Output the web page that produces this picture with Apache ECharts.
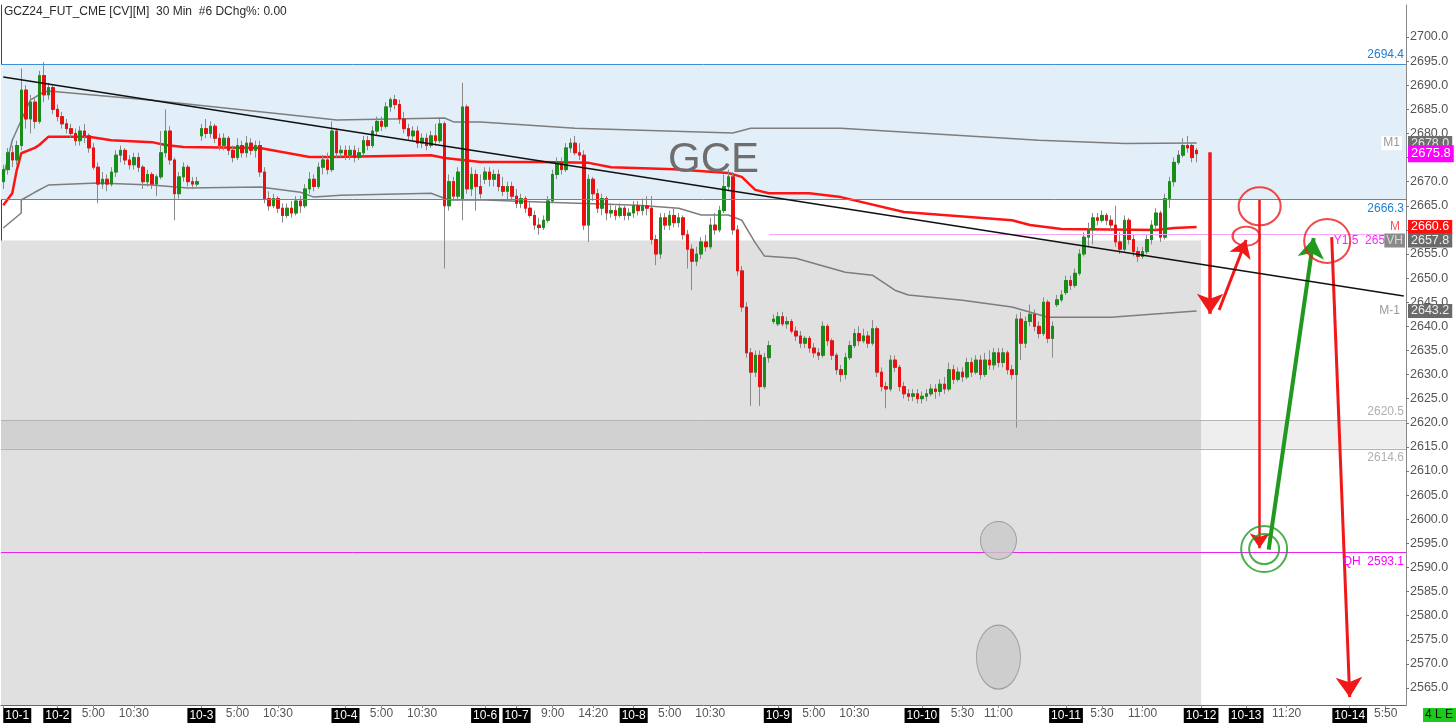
<!DOCTYPE html>
<html><head><meta charset="utf-8">
<script src="https://cdn.jsdelivr.net/npm/echarts@6/dist/echarts.min.js"></script>
<style>html,body{margin:0;padding:0;background:#fff}#c{width:1456px;height:723px}</style>
</head><body><div id="c"></div>
<script>
// ---- candles [open, close, low, high], 30-min bars, grouped by session ----
const d1001 = [
[2670.0,2672.5,2668.5,2673.5],[2672.5,2676.0,2671.5,2677.0],[2676.0,2674.5,2673.0,2677.5],[2674.5,2677.5,2673.5,2678.5],
[2677.5,2689.0,2676.5,2693.5],[2689.0,2683.0,2681.0,2690.0],[2683.0,2686.5,2680.0,2688.0],[2686.5,2682.5,2681.0,2687.5],
[2682.5,2692.0,2682.0,2693.0],[2692.0,2688.0,2686.5,2694.8],[2688.0,2689.5,2687.0,2690.5],[2689.5,2685.0,2684.0,2690.0]];
const d1002 = [
[2685.0,2683.5,2682.5,2686.0],[2683.5,2682.0,2681.0,2684.5],[2682.0,2681.0,2680.0,2683.0],[2681.0,2680.0,2679.0,2682.0],
[2680.0,2678.5,2677.5,2681.0],[2678.5,2680.5,2677.5,2681.5],[2680.5,2679.5,2678.0,2682.0],[2679.5,2677.0,2676.0,2680.0],
[2677.0,2673.0,2672.5,2678.0],[2673.0,2669.5,2665.5,2674.0],[2669.5,2670.5,2668.5,2672.0],[2670.5,2669.5,2668.0,2671.5],
[2669.5,2672.0,2669.0,2673.0],[2672.0,2675.5,2671.0,2676.5],[2675.5,2676.5,2674.0,2677.5],[2676.5,2674.5,2673.5,2677.0],
[2674.5,2673.5,2672.5,2675.5],[2673.5,2675.0,2672.5,2676.0],[2675.0,2673.0,2672.0,2676.0],[2673.0,2670.0,2668.5,2673.5],
[2670.0,2671.5,2669.0,2672.5],[2671.5,2669.5,2668.5,2672.0],[2669.5,2671.0,2667.0,2671.5],[2671.0,2676.0,2670.5,2680.5],
[2676.0,2680.5,2675.0,2685.0],[2680.5,2674.5,2673.5,2681.5],[2674.5,2667.5,2662.0,2675.0],[2667.5,2671.0,2666.5,2672.0],
[2671.0,2673.0,2670.0,2674.0],[2673.0,2670.0,2669.0,2673.5],[2670.0,2669.5,2668.5,2671.0],[2669.5,2670.0,2669.0,2671.0]];
const d1003 = [
[2679.5,2681.0,2678.5,2682.0],[2681.0,2680.0,2679.0,2683.0],[2680.0,2681.5,2679.0,2682.5],[2681.5,2679.0,2678.0,2682.0],
[2679.0,2677.5,2676.5,2680.0],[2677.5,2679.0,2676.5,2680.0],[2679.0,2676.5,2675.5,2679.5],[2676.5,2675.0,2674.0,2677.5],
[2675.0,2677.5,2674.5,2679.0],[2677.5,2676.0,2675.0,2678.5],[2676.0,2678.0,2675.0,2679.5],[2678.0,2676.5,2675.5,2679.0],
[2676.5,2677.5,2675.0,2678.5],[2677.5,2672.0,2671.0,2678.5],[2672.0,2666.5,2665.5,2673.0],[2666.5,2665.0,2664.0,2668.0],
[2665.0,2666.5,2664.5,2667.5],[2666.5,2664.5,2663.5,2667.0],[2664.5,2663.0,2661.5,2665.5],[2663.0,2664.5,2662.5,2665.5],
[2664.5,2663.5,2662.5,2666.0],[2663.5,2666.0,2663.0,2667.0],[2666.0,2665.0,2663.5,2667.0],[2665.0,2668.5,2664.5,2669.5],
[2668.5,2670.5,2667.5,2672.0],[2670.5,2669.0,2668.0,2671.5],[2669.0,2673.0,2668.5,2674.0],[2673.0,2674.5,2671.5,2675.5],
[2674.5,2672.5,2671.5,2676.0],[2672.5,2680.5,2672.0,2682.5],[2680.5,2676.0,2675.0,2681.0],[2676.0,2676.5,2675.0,2677.5]];
const d1004 = [
[2676.5,2675.5,2674.5,2677.5],[2675.5,2676.5,2674.5,2677.5],[2676.5,2675.0,2674.0,2677.5],[2675.0,2676.0,2674.5,2677.0],
[2676.0,2678.5,2675.5,2679.5],[2678.5,2677.5,2676.5,2679.5],[2677.5,2680.5,2677.0,2681.5],[2680.5,2682.5,2679.5,2683.5],
[2682.5,2681.5,2680.5,2683.5],[2681.5,2685.5,2681.0,2686.5],[2685.5,2687.0,2684.5,2687.5],[2687.0,2686.0,2685.0,2688.0],
[2686.0,2683.0,2682.0,2687.0],[2683.0,2681.0,2680.0,2684.5],[2681.0,2679.5,2678.5,2682.0],[2679.5,2680.5,2678.5,2681.5],
[2680.5,2678.0,2677.0,2681.5],[2678.0,2679.0,2677.0,2680.0],[2679.0,2677.5,2676.5,2680.0],[2677.5,2679.5,2677.0,2680.5],
[2679.5,2678.5,2677.5,2682.0],[2678.5,2682.0,2678.0,2683.0],[2682.0,2665.0,2652.0,2682.5],[2665.0,2670.0,2664.0,2671.5],
[2670.0,2667.0,2666.0,2671.0],[2667.0,2672.0,2666.0,2673.0],[2666.5,2685.5,2662.0,2690.5],[2685.5,2668.5,2667.5,2686.0],
[2668.5,2671.5,2667.0,2673.0],[2671.5,2669.0,2664.0,2672.5],[2669.0,2667.5,2666.5,2671.5]];
const d1006 = [
[2670.5,2672.0,2669.5,2673.0],[2672.0,2670.5,2669.0,2673.0],[2670.5,2671.5,2669.0,2672.5],[2671.5,2669.0,2668.0,2672.5],
[2669.0,2668.0,2667.0,2671.0],[2668.0,2669.0,2666.0,2670.0],[2669.0,2667.0,2666.0,2670.0],
[2667.0,2665.5,2664.5,2668.5],[2665.5,2666.5,2664.5,2667.5],[2666.5,2664.5,2663.5,2667.0],[2664.5,2663.0,2662.5,2666.0],
[2663.0,2661.0,2660.0,2664.0],[2661.0,2660.5,2659.0,2662.5],[2660.5,2662.0,2660.0,2663.0],[2662.0,2666.0,2661.5,2667.0],
[2666.0,2671.5,2665.5,2672.5],[2671.5,2674.0,2670.5,2675.0],[2674.0,2672.5,2671.5,2675.0],[2672.5,2677.0,2672.0,2678.0],
[2677.0,2678.0,2676.0,2679.0],[2678.0,2676.0,2675.5,2679.5],[2676.0,2675.5,2674.5,2678.0],[2675.5,2661.0,2660.0,2676.5],
[2661.0,2670.5,2657.5,2671.5],[2670.5,2667.5,2666.0,2671.0],[2667.5,2664.5,2663.5,2668.5],[2664.5,2666.5,2663.0,2667.5],
[2666.5,2663.5,2662.0,2667.0],[2663.5,2664.0,2662.5,2665.5],[2664.0,2663.0,2662.0,2665.0],[2663.0,2664.5,2662.5,2665.5],
[2664.5,2663.0,2662.0,2665.0],[2663.0,2663.5,2662.0,2664.5]];
const d1008 = [
[2663.5,2665.0,2662.5,2666.0],[2665.0,2664.0,2663.0,2666.0],[2664.0,2665.0,2663.0,2666.5],[2665.0,2664.5,2663.0,2667.0],
[2664.5,2658.0,2657.0,2667.0],[2658.0,2655.0,2652.7,2659.0],[2655.0,2662.5,2654.0,2663.5],[2662.5,2661.0,2660.0,2663.5],
[2661.0,2663.0,2660.0,2664.0],[2663.0,2661.5,2660.5,2664.5],[2661.5,2662.5,2660.5,2663.5],[2662.5,2659.0,2658.0,2663.0],
[2659.0,2656.0,2652.0,2660.0],[2656.0,2653.5,2647.5,2657.0],[2653.5,2655.0,2652.5,2656.5],[2655.0,2657.5,2654.0,2658.5],
[2657.5,2656.5,2655.5,2659.0],[2656.5,2661.0,2656.0,2662.5],[2661.0,2660.0,2659.0,2663.5],[2660.0,2664.0,2659.5,2665.0],
[2664.0,2669.0,2663.5,2671.5],[2669.0,2671.0,2668.0,2672.5],[2671.0,2660.0,2659.0,2672.0],[2660.0,2651.5,2650.5,2661.0],
[2651.5,2644.0,2643.0,2652.5],[2644.0,2634.5,2633.5,2645.0],[2634.5,2630.5,2623.5,2635.5],[2630.5,2634.0,2629.5,2635.0],
[2634.0,2627.5,2623.5,2635.0],[2627.5,2633.5,2627.0,2634.5],[2633.5,2636.0,2632.5,2637.0],[2641.0,2641.5,2640.5,2642.5]];
const d1009 = [
[2640.5,2642.0,2640.0,2643.0],[2642.0,2640.5,2640.0,2643.0],[2640.5,2641.0,2639.5,2642.0],[2641.0,2639.0,2638.5,2641.5],
[2639.0,2638.0,2637.0,2640.0],[2638.0,2636.5,2635.5,2639.0],[2636.5,2637.5,2635.5,2638.0],[2637.5,2635.5,2634.5,2638.0],
[2635.5,2634.5,2633.5,2636.5],[2634.5,2634.0,2633.0,2635.5],[2634.0,2640.0,2633.5,2641.0],[2640.0,2637.0,2636.0,2640.5],
[2637.0,2634.0,2633.0,2637.5],[2634.0,2631.0,2630.0,2634.5],[2631.0,2630.0,2628.5,2632.0],[2630.0,2633.5,2629.0,2634.5],
[2633.5,2636.0,2633.0,2637.0],[2636.0,2638.5,2635.5,2639.5],[2638.5,2637.0,2636.0,2640.0],[2637.0,2638.0,2636.5,2639.5],
[2638.0,2636.5,2635.5,2639.0],[2636.5,2639.5,2636.0,2641.3],[2639.5,2630.5,2629.5,2640.0],[2630.5,2627.5,2626.5,2631.5],
[2627.5,2627.0,2623.0,2628.5],[2627.0,2633.0,2626.5,2634.0],[2633.0,2631.5,2630.5,2634.0],[2631.5,2627.5,2626.5,2632.0],
[2627.5,2626.0,2625.0,2628.5],[2626.0,2625.5,2624.5,2627.0],[2625.5,2626.0,2624.5,2627.0],[2626.0,2625.0,2624.0,2627.0]];
const d1010 = [
[2625.0,2625.5,2624.0,2626.5],[2625.5,2626.0,2624.5,2627.0],[2626.0,2627.0,2625.5,2628.0],[2627.0,2626.5,2625.0,2628.0],
[2626.5,2628.0,2625.5,2629.0],[2628.0,2627.0,2626.0,2629.5],[2627.0,2631.0,2626.5,2632.5],[2631.0,2629.0,2628.0,2632.0],
[2629.0,2630.5,2628.5,2631.5],[2630.5,2629.5,2628.5,2631.5],[2629.5,2632.5,2629.0,2633.5],[2632.5,2630.5,2629.5,2633.5],
[2630.5,2633.0,2630.0,2634.0],[2633.0,2630.0,2629.0,2634.0],[2630.0,2633.0,2629.5,2634.5],[2633.0,2632.0,2631.0,2635.0],
[2632.0,2634.5,2631.0,2635.5],[2634.5,2632.5,2631.5,2635.5],[2632.5,2634.5,2631.5,2635.5],[2634.5,2631.0,2630.0,2635.0],
[2631.0,2630.0,2629.0,2632.0],[2630.0,2641.5,2619.0,2642.5],[2641.5,2636.5,2633.0,2643.0],[2636.5,2641.0,2635.5,2642.0],
[2641.0,2642.5,2640.0,2644.5],[2642.5,2640.0,2639.0,2643.5],[2640.0,2638.5,2637.5,2641.0],[2638.5,2645.0,2638.0,2646.0],
[2645.0,2637.5,2636.5,2645.5],[2637.5,2640.0,2633.5,2641.0],[2644.5,2645.5,2644.0,2646.5],[2645.5,2646.5,2645.0,2647.5]];
const d1011 = [
[2647.0,2649.5,2646.5,2650.5],[2649.5,2648.5,2647.5,2650.5],[2648.5,2651.0,2648.0,2652.0],[2651.0,2655.0,2650.5,2656.0],
[2655.0,2658.5,2654.5,2659.5],[2658.5,2660.0,2656.5,2661.5],[2660.0,2662.5,2657.0,2663.5],[2662.5,2662.0,2661.0,2663.5],
[2662.0,2663.0,2661.5,2664.0],[2663.0,2662.0,2661.0,2663.5],[2662.0,2661.0,2660.0,2663.0],[2661.0,2657.5,2656.5,2665.0],
[2657.5,2656.0,2655.0,2659.5],[2656.0,2662.0,2655.5,2663.0],[2662.0,2658.0,2657.0,2662.5],[2658.0,2655.5,2654.5,2659.0],
[2655.5,2654.5,2653.3,2656.5],[2654.5,2655.5,2654.0,2656.5],[2655.5,2658.0,2655.0,2659.0],[2658.0,2661.0,2657.0,2662.0],
[2661.0,2663.5,2660.0,2664.5],[2663.5,2658.5,2657.5,2664.0],[2658.5,2666.5,2658.0,2667.5],[2666.5,2670.0,2664.5,2671.0],
[2670.0,2674.0,2669.0,2675.0],[2674.0,2675.5,2673.5,2676.5],[2675.5,2677.5,2675.0,2679.0],[2677.5,2677.0,2676.0,2679.5],
[2677.5,2675.0,2674.0,2678.0],[2676.5,2675.8,2674.0,2677.0]];

// ---- indicator lines: [bar index, price] vertices ----
const mLine = [[0,2665.1],[2,2667.6],[3,2672.4],[4,2675.9],[7,2677.0],[8,2677.6],[10,2679.3],[19,2679.3],[24,2678.6],[33,2678.2],[36,2677.6],[40,2677.2],[57,2677.0],[61,2676.3],[68,2675.1],[73,2675.1],[95,2675.5],[98,2674.9],[106,2674.1],[119,2674.1],[130,2673.9],[135,2673.0],[149,2672.6],[161,2671.8],[164,2671.0],[167,2668.3],[170,2667.6],[179,2667.6],[186,2666.8],[200,2663.7],[224,2662.0],[228,2661.0],[235,2660.2],[256,2660.0],[260,2660.4],[265,2660.6]];
const m1Line = [[0,2671.0],[2,2678.6],[6,2686.9],[9,2688.6],[10,2688.8],[33,2686.9],[68,2683.4],[74,2682.8],[98,2683.2],[100,2682.4],[106,2682.4],[127,2681.1],[162,2680.1],[166,2681.1],[186,2681.1],[230,2678.6],[249,2677.9],[265,2678.0]];
const mNeg1Line = [[0,2660.4],[4,2663.5],[4.4,2666.2],[7,2667.8],[10,2669.3],[21,2669.7],[33,2669.3],[41,2668.7],[57,2668.9],[66,2667.8],[69,2666.8],[75,2667.2],[95,2667.6],[99,2666.2],[107,2666.2],[119,2665.8],[141,2665.1],[150,2664.5],[155,2663.1],[161,2663.1],[164,2662.0],[167,2657.3],[169,2654.6],[176,2654.1],[187,2651.2],[193,2650.6],[198,2647.5],[201,2646.5],[213,2645.4],[224,2644.0],[232,2641.9],[246,2641.9],[258,2642.7],[265,2643.2]];
const trendLine = [[0,2691.7],[311,2646.3]];

// ---- levels ----
const zoneBlue = [2694.4, 2666.3];
const zoneValueTop = 2657.8;
const bandGray = [2620.5, 2614.6];
const qhLevel = 2593.1;
const y15Level = 2659.0;
const lastPrice = 2675.8;
const m1Val = 2678.0, mVal = 2660.6, vhVal = 2657.8, mNeg1Val = 2643.2;

// ---- axis ticks ----
const yTicks = [2565,2570,2575,2580,2585,2590,2595,2600,2605,2610,2615,2620,2625,2630,2635,2640,2645,2650,2655,2660,2665,2670,2675,2680,2685,2690,2695,2700];
const N_SLOTS = 312;
const xLabelIdx = [0,12,20,29,44,52,61,76,84,93,107,114,122,131,140,148,157,172,180,189,204,213,221,236,244,253,266,276,285,299,307];
const xLabelTxt = ['10-1','10-2','5:00','10:30','10-3','5:00','10:30','10-4','5:00','10:30','10-6','10-7','9:00','14:20','10-8','5:00','10:30','10-9','5:00','10:30','10-10','5:30','11:00','10-11','5:30','11:00','10-12','10-13','11:20','10-14','5:50'];

// ---- drawn annotations (data coords: [bar index, price]) ----
const arrowFrom = [[267.7,2676.1],[270.2,2643.4],[279.0,2666.2],[281.1,2593.7],[294.9,2658.5]];
const arrowTo   = [[268.0,2642.6],[275.9,2657.9],[279.2,2594.0],[291.2,2658.3],[298.9,2563.1]];
const redRings = [[276.2,2658.7],[278.6,2664.9],[293.9,2657.7]];
const greenRings = [[280.4,2593.8],[280.4,2593.8]];
const grayBlobs = [[220.6,2595.6],[221.1,2571.4]];

// ---------------------------------------------------------------
const candles = [].concat(d1001,d1002,d1003,d1004,d1006,d1008,d1009,d1010,d1011);
const bodies = candles.map(c => [c[0], c[1], Math.min(c[0],c[1]), Math.max(c[0],c[1])]);
const cats = []; for (let i = 0; i < N_SLOTS; i++) cats.push('b' + i);
const labelMap = {}; xLabelIdx.forEach((k, j) => labelMap[k] = xLabelTxt[j]);

const YMIN = 2561.47, YMAX = 2706.64;
const FONT = 'Liberation Sans, Arial, sans-serif';
const HIDDEN = {color: 'rgba(0,0,0,0)', width: 0.01, opacity: 1};

const arrowStyle = [
  {color:'#f01818', width:3.5}, {color:'#f01818', width:3}, {color:'#f01818', width:2.5},
  {color:'#1f9a1f', width:4}, {color:'#f01818', width:3}
];
const arrowHead = [20,17,15,20,20];
const ringSize = [[27,19],[42,38],[46,44]];
const greenSize = [[46,46],[30,30]];
const blobSize = [[36,38],[44,64]];

function lvlLabel(v, txt, color, extra) {
  return {yAxis: v, lineStyle: HIDDEN,
    label: Object.assign({show: true, position: 'insideEnd', formatter: txt, color: color, opacity: 1,
      fontSize: 12, fontFamily: FONT}, extra || {})};
}
function boxLabel(v, txt, bg, fg, extra) {
  return {yAxis: v, lineStyle: HIDDEN,
    label: Object.assign({show: true, position: 'end', distance: 2, formatter: txt, backgroundColor: bg, color: fg, opacity: 1,
      padding: [1, 3, 0, 3], fontSize: 12.5, fontFamily: FONT}, extra || {})};
}

const chart = echarts.init(document.getElementById('c'), null, {renderer: 'canvas'});
chart.setOption({
  animation: false,
  backgroundColor: '#fff',
  grid: {left: 1, right: 50, top: 5, bottom: 18, containLabel: false},
  xAxis: {
    type: 'category', data: cats, boundaryGap: true,
    axisLine: {lineStyle: {color: '#666', width: 1}},
    axisTick: {show: true, length: 3, alignWithLabel: true, lineStyle: {color: '#888'},
      interval: (i) => labelMap[i] !== undefined},
    axisLabel: {
      interval: 0, margin: 3, fontSize: 12, fontFamily: FONT, color: '#555', alignMinLabel: 'left',
      formatter: (v, i) => {
        const t = labelMap[i];
        if (t === undefined) return '';
        return t.indexOf('-') >= 0 ? '{d|' + t + '}' : t;
      },
      rich: {d: {backgroundColor: '#000', color: '#fff', padding: [2, 2, 1, 2], fontSize: 12, fontFamily: FONT}}
    },
    splitLine: {show: false}
  },
  yAxis: [{
    type: 'value', position: 'right', min: YMIN, max: YMAX, scale: true,
    axisLine: {show: true, lineStyle: {color: '#888'}},
    axisTick: {show: true, length: 3, inside: false, customValues: yTicks, lineStyle: {color: '#777'}},
    axisLabel: {customValues: yTicks, margin: 4, fontSize: 12.5, fontFamily: FONT, color: '#555',
      formatter: v => v.toFixed(1)},
    splitLine: {show: false}
  }, {
    type: 'value', position: 'left', min: YMIN, max: YMAX,
    axisLine: {show: true, lineStyle: {color: '#444'}}, axisTick: {show: false}, axisLabel: {show: false}, splitLine: {show: false}
  }],
  graphic: [
    {type: 'text', left: 4, top: 6, z: 100, style: {text: 'GCZ24_FUT_CME [CV][M]  30 Min  #6 DChg%: 0.00', fill: '#2a2a2a', font: '12px ' + FONT}},
    {type: 'text', left: 668, top: 139, z: 50, style: {text: 'GCE', fill: '#6e6e6e', font: '42px ' + FONT}},
    {type: 'rect', right: 0, bottom: 1, z: 100, shape: {width: 33, height: 14}, style: {fill: '#1ec81e'}},
    {type: 'text', right: 3, bottom: 2, z: 101, style: {text: '4 L E', fill: '#111', font: '12px ' + FONT}}
  ],
  series: [
    { // zones
      type: 'line', data: [], z: 0, silent: true,
      markArea: {silent: true, data: [
        [{yAxis: zoneBlue[0], itemStyle: {color: '#e3eff8', borderWidth: 0}}, {yAxis: zoneBlue[1]}],
        [{yAxis: zoneValueTop, itemStyle: {color: '#e0e0e0', borderWidth: 0}}, {xAxis: 265.5, yAxis: YMIN}],
        [{yAxis: bandGray[0], itemStyle: {color: 'rgba(0,0,0,0.065)', borderWidth: 0}}, {yAxis: bandGray[1]}]
      ]}
    },
    { // level lines
      type: 'line', data: [], z: 1, silent: true,
      markLine: {silent: true, symbol: ['none', 'none'], precision: 1, data: [
        {yAxis: zoneBlue[0], lineStyle: {color: '#3f8fd4', width: 1, type: 'solid'},
          label: {show: true, position: 'insideEndTop', formatter: '2694.4', color: '#1f7fd0', fontSize: 12, fontFamily: FONT, distance: [2, 3]}},
        {yAxis: zoneBlue[1], lineStyle: {color: '#3f8fd4', width: 1, type: 'solid'},
          label: {show: true, position: 'insideEndBottom', formatter: '2666.3', color: '#1f7fd0', fontSize: 12, fontFamily: FONT, distance: [2, 3]}},
        {yAxis: bandGray[0], lineStyle: {color: '#b4b4b4', width: 1, type: 'solid'},
          label: {show: true, position: 'insideEndTop', formatter: '2620.5', color: '#b0b0b0', fontSize: 12, fontFamily: FONT, distance: [2, 3]}},
        {yAxis: bandGray[1], lineStyle: {color: '#b4b4b4', width: 1, type: 'solid'},
          label: {show: true, position: 'insideEndBottom', formatter: '2614.6', color: '#b0b0b0', fontSize: 12, fontFamily: FONT, distance: [2, 3]}},
        {yAxis: qhLevel, lineStyle: {color: '#ee22ee', width: 1, type: 'solid'},
          label: {show: true, position: 'insideEndBottom', formatter: 'QH  2593.1', color: '#ff00ff', fontSize: 12, fontFamily: FONT, distance: [2, 3]}},
        [{coord: [169.9, y15Level], lineStyle: {color: '#f7a6f7', width: 1, type: 'solid'},
          label: {show: true, position: 'insideEndBottom', formatter: 'Y1.5  2659.0', color: '#ff22ff', fontSize: 12, fontFamily: FONT, distance: [2, 0]}},
         {coord: [311, y15Level]}]
      ]}
    },
    { type: 'line', data: mNeg1Line, z: 2, symbol: 'none', silent: true, lineStyle: {color: '#7d7d7d', width: 1.5} },
    { type: 'line', data: m1Line, z: 2, symbol: 'none', silent: true, lineStyle: {color: '#7d7d7d', width: 1.5} },
    { type: 'line', data: mLine, z: 2, symbol: 'none', silent: true, lineStyle: {color: '#ff1414', width: 2.5} },
    { // wicks (gray)
      type: 'candlestick', data: candles, z: 3, barWidth: 3, silent: true,
      itemStyle: {color: '#8a8a8a', color0: '#8a8a8a', borderColor: '#8a8a8a', borderColor0: '#8a8a8a', borderWidth: 1}
    },
    { // bodies
      type: 'candlestick', data: bodies, z: 4, barWidth: 3, silent: true,
      itemStyle: {color: '#1a8c1a', color0: '#e81010', borderColor: '#1a8c1a', borderColor0: '#e81010', borderWidth: 1}
    },
    { type: 'line', data: trendLine, z: 5, symbol: 'none', silent: true, lineStyle: {color: '#111', width: 1.5} },
    { // drawn blobs & rings
      type: 'scatter', z: 6, silent: true,
      data: [].concat(
        grayBlobs.map((p, k) => ({value: p, symbolSize: blobSize[k], itemStyle: {color: '#c9c9c9', borderColor: '#8e8e8e', borderWidth: 1}})),
        redRings.map((p, k) => ({value: p, symbolSize: ringSize[k], itemStyle: {color: 'rgba(0,0,0,0)', borderColor: '#ee1c1c', borderWidth: 2}})),
        greenRings.map((p, k) => ({value: p, symbolSize: greenSize[k], itemStyle: {color: 'rgba(0,0,0,0)', borderColor: '#1f9a1f', borderWidth: 2}}))
      )
    },
    { // arrows
      type: 'line', data: [], z: 7, silent: true,
      markLine: {silent: true, animation: false, label: {show: false},
        data: arrowFrom.map((p, k) => [
          {coord: p, symbol: 'none', lineStyle: Object.assign({type: 'solid'}, arrowStyle[k])},
          {coord: arrowTo[k], symbol: 'arrow', symbolSize: arrowHead[k]}
        ])}
    },
    { // right-edge labels & price boxes
      type: 'line', data: [], z: 8, silent: true,
      markLine: {silent: true, symbol: ['none', 'none'], data: [
        lvlLabel(m1Val, 'M1', '#9a9a9a', {backgroundColor: '#fff', padding: [1, 2], distance: 4}),
        lvlLabel(mVal, 'M', '#ff5050', {backgroundColor: '#fff', padding: [0, 2], distance: 4}),
        lvlLabel(vhVal, 'VH', '#d8d8d8', {backgroundColor: '#8a8a8a', padding: [1, 2], distance: 1}),
        lvlLabel(mNeg1Val, 'M-1', '#9a9a9a', {backgroundColor: '#fff', padding: [1, 2], distance: 4}),
        boxLabel(m1Val, '2678.0', '#6e6e6e', '#e6e6e6'),
        boxLabel(mVal, '2660.6', '#ff1010', '#ffffff'),
        boxLabel(vhVal, '2657.8', '#6a6a6a', '#eeeeee'),
        boxLabel(mNeg1Val, '2643.2', '#6a6a6a', '#eeeeee'),
        boxLabel(lastPrice, '2675.8', '#ff00ff', '#ffffff', {padding: [2, 3, 2, 3], fontSize: 13})
      ]}
    }
  ]
});
</script></body></html>
